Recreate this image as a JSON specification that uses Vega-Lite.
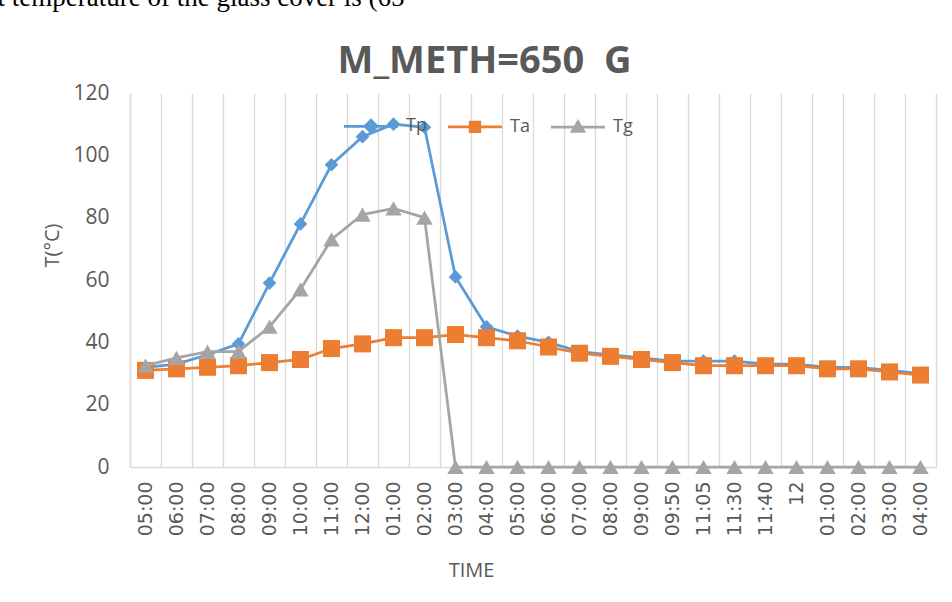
{
  "$schema": "https://vega.github.io/schema/vega-lite/v6.json",
  "autosize": {"type": "none"},
  "width": 806,
  "height": 374,
  "padding": {"left": 130, "top": 93, "right": 16, "bottom": 135},
  "background": "white",
  "config": {"view": {"stroke": null}, "font": "Open Sans"},
  "data": {
    "values": [
      {"time": "05:00", "series": "Tp", "T": 32}, {"time": "06:00", "series": "Tp", "T": 33}, {"time": "07:00", "series": "Tp", "T": 36}, {"time": "08:00", "series": "Tp", "T": 39.5}, {"time": "09:00", "series": "Tp", "T": 59}, {"time": "10:00", "series": "Tp", "T": 78}, {"time": "11:00", "series": "Tp", "T": 97}, {"time": "12:00", "series": "Tp", "T": 106}, {"time": "01:00", "series": "Tp", "T": 110}, {"time": "02:00", "series": "Tp", "T": 109}, {"time": "03:00", "series": "Tp", "T": 61}, {"time": "04:00", "series": "Tp", "T": 45}, {"time": "05:00\u200b", "series": "Tp", "T": 42}, {"time": "06:00\u200b", "series": "Tp", "T": 40}, {"time": "07:00\u200b", "series": "Tp", "T": 37}, {"time": "08:00\u200b", "series": "Tp", "T": 36}, {"time": "09:00\u200b", "series": "Tp", "T": 35}, {"time": "09:50", "series": "Tp", "T": 34}, {"time": "11:05", "series": "Tp", "T": 34}, {"time": "11:30", "series": "Tp", "T": 34}, {"time": "11:40", "series": "Tp", "T": 33}, {"time": "12", "series": "Tp", "T": 33}, {"time": "01:00\u200b", "series": "Tp", "T": 32}, {"time": "02:00\u200b", "series": "Tp", "T": 32}, {"time": "03:00\u200b", "series": "Tp", "T": 31}, {"time": "04:00\u200b", "series": "Tp", "T": 30},
      {"time": "05:00", "series": "Ta", "T": 31}, {"time": "06:00", "series": "Ta", "T": 31.5}, {"time": "07:00", "series": "Ta", "T": 32}, {"time": "08:00", "series": "Ta", "T": 32.5}, {"time": "09:00", "series": "Ta", "T": 33.5}, {"time": "10:00", "series": "Ta", "T": 34.5}, {"time": "11:00", "series": "Ta", "T": 38}, {"time": "12:00", "series": "Ta", "T": 39.5}, {"time": "01:00", "series": "Ta", "T": 41.5}, {"time": "02:00", "series": "Ta", "T": 41.5}, {"time": "03:00", "series": "Ta", "T": 42.5}, {"time": "04:00", "series": "Ta", "T": 41.5}, {"time": "05:00\u200b", "series": "Ta", "T": 40.5}, {"time": "06:00\u200b", "series": "Ta", "T": 38.5}, {"time": "07:00\u200b", "series": "Ta", "T": 36.5}, {"time": "08:00\u200b", "series": "Ta", "T": 35.5}, {"time": "09:00\u200b", "series": "Ta", "T": 34.5}, {"time": "09:50", "series": "Ta", "T": 33.5}, {"time": "11:05", "series": "Ta", "T": 32.5}, {"time": "11:30", "series": "Ta", "T": 32.5}, {"time": "11:40", "series": "Ta", "T": 32.5}, {"time": "12", "series": "Ta", "T": 32.5}, {"time": "01:00\u200b", "series": "Ta", "T": 31.5}, {"time": "02:00\u200b", "series": "Ta", "T": 31.5}, {"time": "03:00\u200b", "series": "Ta", "T": 30.5}, {"time": "04:00\u200b", "series": "Ta", "T": 29.5},
      {"time": "05:00", "series": "Tg", "T": 32.5}, {"time": "06:00", "series": "Tg", "T": 35}, {"time": "07:00", "series": "Tg", "T": 37}, {"time": "08:00", "series": "Tg", "T": 37}, {"time": "09:00", "series": "Tg", "T": 45}, {"time": "10:00", "series": "Tg", "T": 57}, {"time": "11:00", "series": "Tg", "T": 73}, {"time": "12:00", "series": "Tg", "T": 81}, {"time": "01:00", "series": "Tg", "T": 83}, {"time": "02:00", "series": "Tg", "T": 80}, {"time": "03:00", "series": "Tg", "T": 0}, {"time": "04:00", "series": "Tg", "T": 0}, {"time": "05:00\u200b", "series": "Tg", "T": 0}, {"time": "06:00\u200b", "series": "Tg", "T": 0}, {"time": "07:00\u200b", "series": "Tg", "T": 0}, {"time": "08:00\u200b", "series": "Tg", "T": 0}, {"time": "09:00\u200b", "series": "Tg", "T": 0}, {"time": "09:50", "series": "Tg", "T": 0}, {"time": "11:05", "series": "Tg", "T": 0}, {"time": "11:30", "series": "Tg", "T": 0}, {"time": "11:40", "series": "Tg", "T": 0}, {"time": "12", "series": "Tg", "T": 0}, {"time": "01:00\u200b", "series": "Tg", "T": 0}, {"time": "02:00\u200b", "series": "Tg", "T": 0}, {"time": "03:00\u200b", "series": "Tg", "T": 0}, {"time": "04:00\u200b", "series": "Tg", "T": 0}
    ]
  },
  "encoding": {
    "y": {
      "field": "T",
      "type": "quantitative",
      "scale": {"domain": [0, 120], "nice": false},
      "axis": {
        "title": "T(°C)",
        "values": [0, 20, 40, 60, 80, 100, 120],
        "grid": false,
        "ticks": false,
        "domainColor": "#D9D9D9",
        "domainWidth": 1.3,
        "labelFont": "Open Sans",
        "labelFontSize": 21,
        "labelColor": "#595959",
        "labelPadding": 21,
        "titleFont": "Open Sans",
        "titleFontSize": 20,
        "titleFontWeight": "normal",
        "titleColor": "#595959",
        "titleX": -78,
        "titleY": 152,
        "titleAlign": "center",
        "titleBaseline": "middle",
        "titleAngle": -90
      }
    },
    "color": {
      "field": "series",
      "type": "nominal",
      "scale": {"domain": ["Tp", "Ta", "Tg"], "range": ["#5B9BD5", "#ED7D31", "#A5A5A5"]},
      "legend": {
        "orient": "none",
        "legendX": 232,
        "legendY": 24,
        "direction": "horizontal",
        "title": null,
        "labelFont": "Open Sans",
        "labelFontSize": 18,
        "labelColor": "#595959",
        "labelOffset": 26,
        "columnPadding": 15,
        "symbolSize": 144,
        "encode": {
          "symbols": {
            "update": {
              "shape": {"signal": "datum.value === 'Tp' ? 'M-4.5,0H4.5M0,-1L1,0L0,1L-1,0Z' : datum.value === 'Ta' ? 'M-4.5,0H4.5M-0.8,-0.8H0.8V0.8H-0.8Z' : 'M-4.5,0H4.5M0,-0.9L0.95,0.7H-0.95Z'"},
              "fill": {"signal": "scale('color', datum.value)"},
              "stroke": {"signal": "scale('color', datum.value)"},
              "strokeWidth": {"value": 2.75},
              "opacity": {"value": 1}
            }
          }
        }
      }
    }
  },
  "layer": [
    {
      "transform": [{"filter": "datum.series === 'Tp'"}],
      "mark": {"type": "line", "strokeWidth": 2.75, "point": {"shape": "diamond", "filled": true, "size": 185, "opacity": 1}},
      "encoding": {
        "x": {
          "field": "time",
          "type": "nominal",
          "sort": null,
          "bandPosition": 0.5,
          "scale": {"type": "band", "paddingInner": 0, "paddingOuter": 0},
          "axis": {
            "title": "TIME",
            "titleFont": "Open Sans",
            "titleFontSize": 20,
            "titleFontWeight": "normal",
            "titleColor": "#595959",
            "titleX": 341,
            "titleY": 103,
            "titleAlign": "center",
            "titleBaseline": "middle",
            "labelAngle": -90,
            "labelFont": "DejaVu Sans",
            "labelFontSize": 19,
            "labelColor": "#595959",
            "labelPadding": 14,
            "grid": true,
            "gridColor": "#D9D9D9",
            "gridWidth": 1.3,
            "tickBand": "extent",
            "ticks": false,
            "domainColor": "#D9D9D9",
            "domainWidth": 1.3
          }
        }
      }
    },
    {
      "transform": [{"filter": "datum.series === 'Ta'"}],
      "mark": {"type": "line", "strokeWidth": 2.75, "point": {"shape": "square", "filled": true, "size": 290, "opacity": 1}},
      "encoding": {
        "x": {
          "field": "time",
          "type": "nominal",
          "sort": null,
          "bandPosition": 0.5,
          "axis": {
            "orient": "top",
            "labels": false,
            "ticks": false,
            "domain": false,
            "grid": false,
            "title": "M_METH=650\u00a0 G",
            "titleFont": "Open Sans",
            "titleFontSize": 38,
            "titleFontWeight": "bold",
            "titleColor": "#595959",
            "titleX": 354,
            "titleY": -21,
            "titleAlign": "center",
            "titleBaseline": "alphabetic"
          }
        }
      }
    },
    {
      "transform": [{"filter": "datum.series === 'Tg'"}],
      "mark": {"type": "line", "strokeWidth": 2.75, "point": {"shape": "triangle-up", "filled": true, "size": 270, "opacity": 1}},
      "encoding": {
        "x": {
          "field": "time",
          "type": "nominal",
          "sort": null,
          "bandPosition": 0.5,
          "axis": {
            "orient": "top",
            "labels": false,
            "ticks": false,
            "domain": false,
            "grid": false,
            "title": "t temperature of the glass cover is (65",
            "titleFont": "Liberation Serif",
            "titleFontSize": 27,
            "titleFontWeight": "normal",
            "titleColor": "#000000",
            "titleAnchor": "start",
            "titleAlign": "left",
            "titleBaseline": "alphabetic",
            "titleX": -133,
            "titleY": -88
          }
        }
      }
    }
  ],
  "resolve": {"axis": {"x": "independent"}}
}
